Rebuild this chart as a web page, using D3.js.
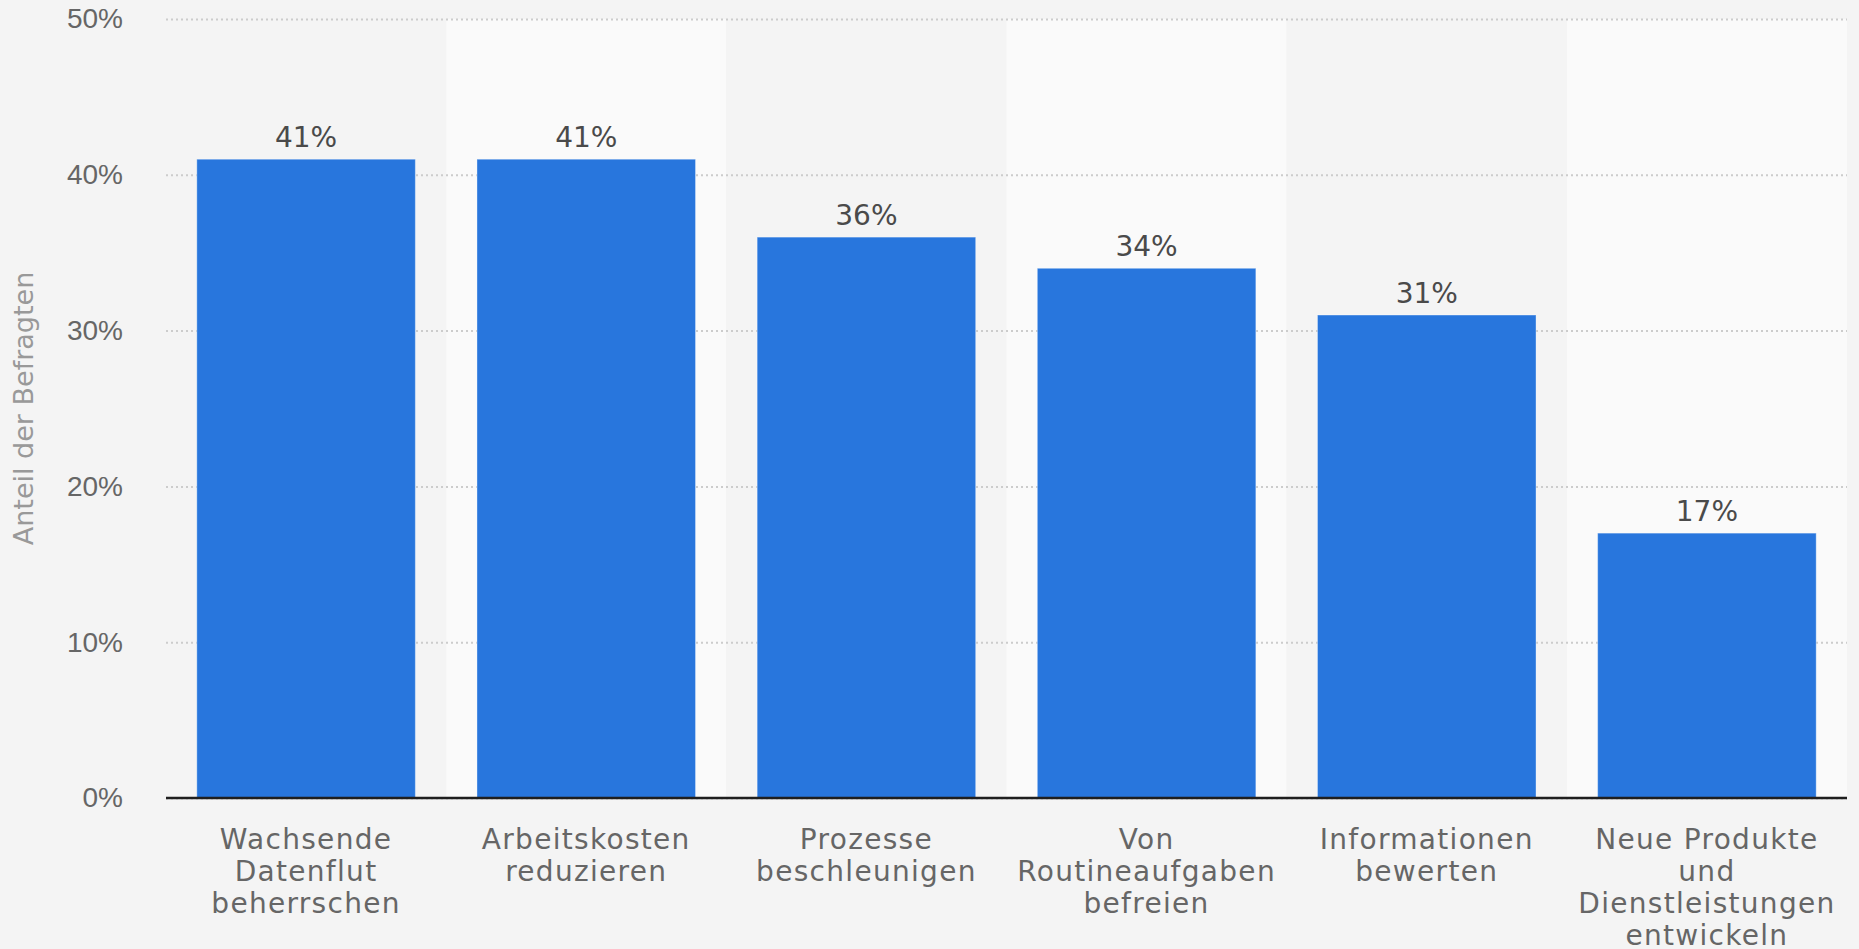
<!DOCTYPE html>
<html>
<head>
<meta charset="utf-8">
<script src="https://cdn.jsdelivr.net/npm/d3@7"></script>
<style>
  body { margin: 0; background: #f4f4f4; }
  svg { display: block; font-family: "DejaVu Sans", sans-serif; }
</style>
</head>
<body>
<script>
const [width, height] = [1859, 949];

const margin = ({top: 19, right: 12, bottom: 151, left: 166});

// survey answers, share of respondents in percent
const categories = [
    'Wachsende Datenflut beherrschen',
    'Arbeitskosten reduzieren',
    'Prozesse beschleunigen',
    'Von Routineaufgaben befreien',
    'Informationen bewerten',
    'Neue Produkte und Dienstleistungen entwickeln'
];
const values = [41, 41, 36, 34, 31, 17];
const yTicks = [0, 10, 20, 30, 40, 50];
const yTitle = 'Anteil der Befragten';

const data = categories.map((c, i) => ({cat: c, value: values[i]}));

const svg = d3.select('body').append('svg')
    .attr('width', width)
    .attr('height', height)
    .attr('viewBox', [0, 0, width, height]);

svg.append('rect')
    .attr('width', width)
    .attr('height', height)
    .attr('fill', '#f4f4f4');

const x = d3.scaleBand()
    .domain(categories)
    .range([margin.left, width - margin.right])
    .paddingInner(0.22)
    .paddingOuter(0.11);

const y = d3.scaleLinear()
    .domain([0, 50])
    .range([height - margin.bottom, margin.top]);

const step = x.step();

// alternating column backgrounds
svg.append('g')
    .selectAll('rect')
    .data(categories)
    .join('rect')
        .attr('x', d => x(d) - step * x.paddingInner() / 2)
        .attr('y', y(50))
        .attr('width', step)
        .attr('height', y(0) - y(50))
        .attr('fill', (d, i) => i % 2 ? '#fafafa' : '#f4f4f4');

// y axis with dotted grid
const yAxis = (g) => g
    .attr('transform', `translate(${margin.left},0)`)
    .call(d3.axisLeft(y).tickValues(yTicks).tickFormat(d => d + '%')
        .tickSize(-(width - margin.left - margin.right)).tickPadding(43))
    .call(g => g.select('.domain').remove())
    .call(g => g.selectAll('.tick line')
        .attr('stroke', '#cccccc')
        .attr('stroke-width', 2)
        .attr('stroke-dasharray', '2,3'))
    .call(g => g.selectAll('.tick text')
        .attr('fill', '#666666')
        .attr('font-size', 28)
        .attr('dy', '0.32em'));

svg.append('g').call(yAxis);

svg.append('text')
    .attr('transform', `translate(33,${(y(0) + y(50)) / 2}) rotate(-90)`)
    .attr('text-anchor', 'middle')
    .attr('fill', '#999999')
    .attr('font-size', 27)
    .text(yTitle);

// bars
svg.append('g')
    .selectAll('rect')
    .data(data)
    .join('rect')
        .attr('x', d => x(d.cat))
        .attr('y', d => y(d.value))
        .attr('width', x.bandwidth())
        .attr('height', d => y(0) - y(d.value))
        .attr('fill', '#2876dd')
        .attr('stroke', 'rgba(255,255,255,0.35)')
        .attr('stroke-width', 1);

// value labels
svg.append('g')
    .selectAll('text')
    .data(data)
    .join('text')
        .attr('x', d => x(d.cat) + x.bandwidth() / 2)
        .attr('y', d => y(d.value) - 12)
        .attr('text-anchor', 'middle')
        .attr('fill', '#4a4a4a')
        .attr('font-size', 28)
        .text(d => d.value + '%');

// baseline
svg.append('line')
    .attr('x1', margin.left)
    .attr('x2', width - margin.right)
    .attr('y1', y(0))
    .attr('y2', y(0))
    .attr('stroke', '#1f1f1f')
    .attr('stroke-width', 2.5);

// x labels, wrapped to the column width
const wrap = (text, maxWidth) => {
    text.each(function() {
        const t = d3.select(this);
        const words = t.text().split(' ');
        const cx = t.attr('x');
        t.text(null);
        let line = [];
        let tspan = t.append('tspan').attr('x', cx).attr('dy', 0);
        words.forEach(w => {
            line.push(w);
            tspan.text(line.join(' '));
            if (tspan.node().getComputedTextLength() > maxWidth && line.length > 1) {
                line.pop();
                tspan.text(line.join(' '));
                line = [w];
                tspan = t.append('tspan').attr('x', cx).attr('dy', 32).text(w);
            }
        });
    });
};

svg.append('g')
    .selectAll('text')
    .data(categories)
    .join('text')
        .attr('x', d => x(d) + x.bandwidth() / 2)
        .attr('y', y(0) + 51)
        .attr('text-anchor', 'middle')
        .attr('fill', '#666666')
        .attr('font-size', 28)
        .attr('letter-spacing', 1.3)
        .text(d => d)
        .call(wrap, 265);
</script>
</body>
</html>
